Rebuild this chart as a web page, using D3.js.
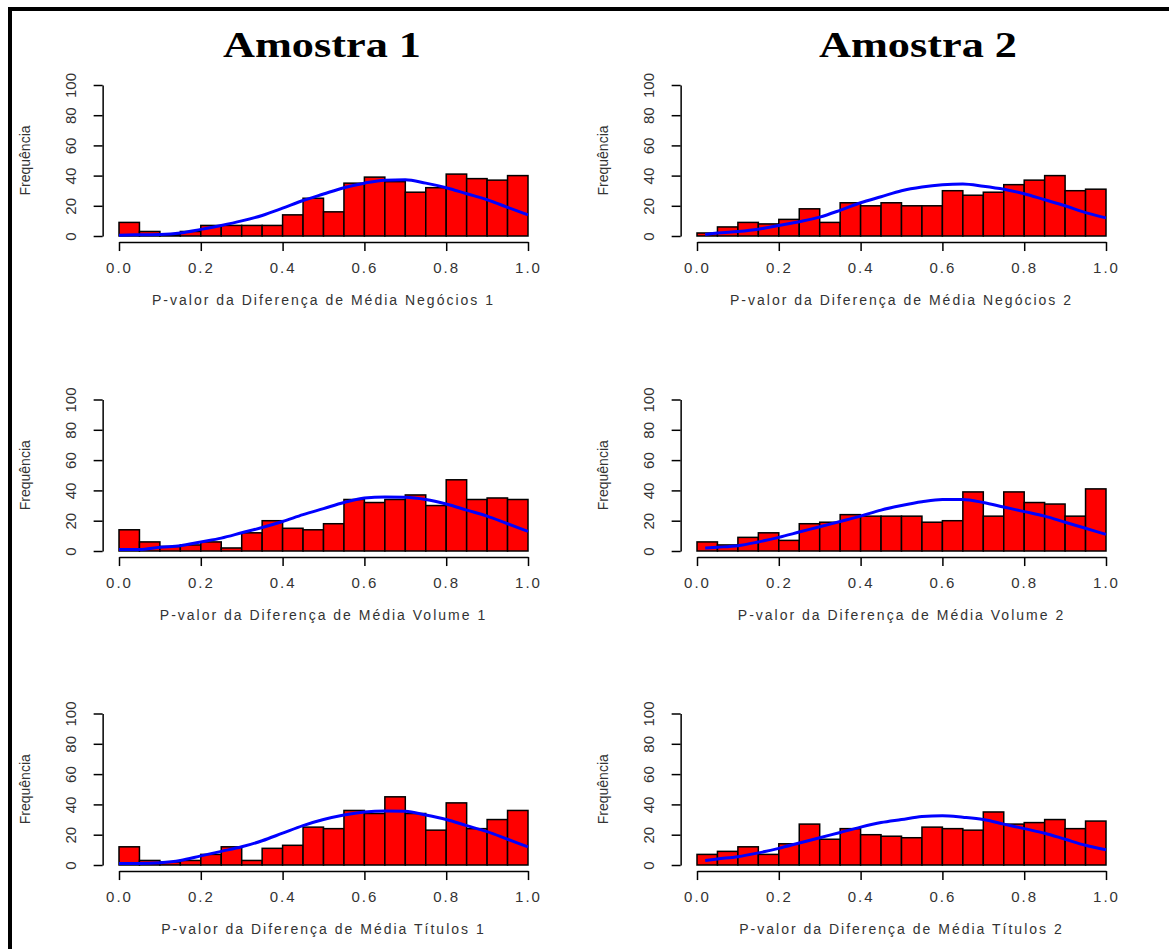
<!DOCTYPE html>
<html>
<head>
<meta charset="utf-8">
<script src="https://cdn.jsdelivr.net/npm/d3@7"></script>
<style>
  body { margin: 0; background: #fff; }
  svg { display: block; }
</style>
</head>
<body>
<script>
// bin edges shared by every histogram (width 0.05)
var binEdges = [0, 0.05, 0.1, 0.15, 0.2, 0.25, 0.3, 0.35, 0.4, 0.45, 0.5,
                0.55, 0.6, 0.65, 0.7, 0.75, 0.8, 0.85, 0.9, 0.95, 1.0];

// frequencies
var negocios1 = [9, 3, 1, 3, 7, 7, 7, 7, 14, 25, 16, 35, 39, 36, 29, 32, 41, 38, 37, 40];
var negocios2 = [2, 6, 9, 8, 11, 18, 9, 22, 20, 22, 20, 20, 30, 27, 29, 34, 37, 40, 30, 31];
var volume1   = [14, 6, 3, 4, 6, 2, 12, 20, 15, 14, 18, 34, 32, 34, 37, 30, 47, 34, 35, 34];
var volume2   = [6, 4, 9, 12, 7, 18, 19, 24, 23, 23, 23, 19, 20, 39, 23, 39, 32, 31, 23, 41];
var titulos1  = [12, 3, 2, 3, 7, 12, 3, 11, 13, 25, 24, 36, 34, 45, 34, 23, 41, 24, 30, 36];
var titulos2  = [7, 9, 12, 7, 14, 27, 17, 24, 20, 19, 18, 25, 24, 23, 35, 27, 28, 30, 24, 29];

// blue fitted curves, sampled by eye
var curveXFrom0  = [0, 0.05, 0.1, 0.15, 0.2, 0.25, 0.3, 0.35, 0.4, 0.45, 0.5,
                    0.55, 0.6, 0.65, 0.7, 0.75, 0.8, 0.85, 0.9, 0.95, 1.0];
var curveXFrom02 = [0.02, 0.05, 0.1, 0.15, 0.2, 0.25, 0.3, 0.35, 0.4, 0.45, 0.5,
                    0.55, 0.6, 0.65, 0.7, 0.75, 0.8, 0.85, 0.9, 0.95, 1.0];
var dNegocios1 = [0.5, 0.8, 1, 2, 4.4, 7, 10, 13.6, 18.4, 23.5, 27.8, 32, 35, 37, 37.3, 35, 32, 28, 24, 19, 14];
var dNegocios2 = [1, 2, 3, 4.5, 7, 9.5, 12.5, 17, 22, 26, 30, 32.5, 34, 34.5, 33, 31, 28, 24, 20, 15.5, 12];
var dVolume1   = [1, 1, 2.5, 3.5, 6, 8.5, 12, 15.5, 19.5, 24, 28, 32, 35, 35.7, 35.5, 34, 31, 27, 23, 18, 13];
var dVolume2   = [2, 2.5, 3.5, 6, 9, 12.5, 16, 19.5, 23, 27, 30, 32.5, 34, 34, 32, 29, 26, 23, 19, 15, 11];
var dTitulos1  = [1, 1, 1.5, 3, 6, 9, 12, 16, 21, 26, 30, 33, 35, 35.7, 35.5, 33, 30, 26, 22, 17, 12];
var dTitulos2  = [3, 4, 5.5, 8, 11, 14.5, 18, 21.5, 25, 28, 30, 32, 32.5, 31.5, 30, 27, 24, 21, 17, 13, 10];

var xTicks = [0, 0.2, 0.4, 0.6, 0.8, 1.0];
var yTicks = [0, 20, 40, 60, 80, 100];
var titles = ["Amostra 1", "Amostra 2"];
var xLabels = [
    "P-valor da Diferença de Média Negócios 1", "P-valor da Diferença de Média Negócios 2",
    "P-valor da Diferença de Média Volume 1",   "P-valor da Diferença de Média Volume 2",
    "P-valor da Diferença de Média Títulos 1",  "P-valor da Diferença de Média Títulos 2"
];
var yLabel = "Frequência";

var panels = [
    {col: 0, row: 0, counts: negocios1, cx: curveXFrom0,  cy: dNegocios1, label: xLabels[0]},
    {col: 1, row: 0, counts: negocios2, cx: curveXFrom02, cy: dNegocios2, label: xLabels[1]},
    {col: 0, row: 1, counts: volume1,   cx: curveXFrom0,  cy: dVolume1,   label: xLabels[2]},
    {col: 1, row: 1, counts: volume2,   cx: curveXFrom02, cy: dVolume2,   label: xLabels[3]},
    {col: 0, row: 2, counts: titulos1,  cx: curveXFrom0,  cy: dTitulos1,  label: xLabels[4]},
    {col: 1, row: 2, counts: titulos2,  cx: curveXFrom02, cy: dTitulos2,  label: xLabels[5]}
];

// layout (pixels)
var colRange = [[119, 528], [697, 1106]];
var rowRange = [[236, 85], [551, 399.5], [865, 713.5]];
var titleX = [322, 918];
var sans = "'Liberation Sans', Arial, sans-serif";

var svg = d3.select("body").append("svg")
    .attr("width", 1169)
    .attr("height", 949);

svg.append("rect").attr("width", 1169).attr("height", 949).attr("fill", "#fff");

// outer frame (runs off the right and bottom edges)
svg.append("rect")
    .attr("x", 10).attr("y", 9)
    .attr("width", 1300).attr("height", 1100)
    .attr("fill", "none")
    .attr("stroke", "#000")
    .attr("stroke-width", 4);

svg.selectAll(".title")
    .data(titles)
    .enter().append("text")
    .attr("class", "title")
    .attr("x", function(d, i) { return titleX[i]; })
    .attr("y", 57)
    .attr("text-anchor", "middle")
    .attr("textLength", 198)
    .attr("lengthAdjust", "spacingAndGlyphs")
    .style("font-family", "'Liberation Serif', 'Times New Roman', serif")
    .style("font-weight", "bold")
    .style("font-size", "36px")
    .style("fill", "#000")
    .text(function(d) { return d; });

panels.forEach(function(p) {
    var x = d3.scaleLinear().domain([0, 1]).range(colRange[p.col]);
    var y = d3.scaleLinear().domain([0, 100]).range(rowRange[p.row]);
    var g = svg.append("g");

    g.selectAll(".bar")
        .data(p.counts)
        .enter().append("rect")
        .attr("class", "bar")
        .attr("x", function(d, i) { return x(binEdges[i]); })
        .attr("width", function(d, i) { return x(binEdges[i + 1]) - x(binEdges[i]); })
        .attr("y", function(d) { return y(d); })
        .attr("height", function(d) { return y(0) - y(d); })
        .attr("fill", "#ff0000")
        .attr("stroke", "#000")
        .attr("stroke-width", 1.5);

    var line = d3.line()
        .x(function(d) { return x(d[0]); })
        .y(function(d) { return y(d[1]); })
        .curve(d3.curveMonotoneX);

    g.append("path")
        .datum(d3.zip(p.cx, p.cy))
        .attr("d", line)
        .attr("fill", "none")
        .attr("stroke", "#0000ff")
        .attr("stroke-width", 3);

    // x axis, R style: sits a little below zero
    var xa = g.append("g")
        .attr("transform", "translate(0," + y(-4) + ")")
        .call(d3.axisBottom(x).tickValues(xTicks).tickFormat(d3.format(".1f"))
            .tickSize(9).tickSizeOuter(0));
    xa.selectAll("text")
        .attr("y", 31).attr("dy", 0)
        .style("font-family", sans)
        .style("font-size", "15px")
        .style("letter-spacing", "2px")
        .style("fill", "#333");

    var ya = g.append("g")
        .attr("transform", "translate(" + x(-0.04) + ",0)")
        .call(d3.axisLeft(y).tickValues(yTicks).tickSize(9).tickSizeOuter(0));
    ya.selectAll("text")
        .attr("transform", "rotate(-90)")
        .attr("x", 0).attr("y", -27).attr("dy", 0)
        .attr("text-anchor", "middle")
        .style("font-family", sans)
        .style("font-size", "15px")
        .style("fill", "#333");

    [xa, ya].forEach(function(a) {
        a.select(".domain").attr("stroke-width", 1.5);
        a.selectAll(".tick line").attr("stroke-width", 1.5);
    });

    g.append("text")
        .attr("x", (x(0) + x(1)) / 2)
        .attr("y", y(0) + 69)
        .attr("text-anchor", "middle")
        .style("font-family", sans)
        .style("font-size", "14px")
        .style("letter-spacing", "2px")
        .style("fill", "#333")
        .text(p.label);

    g.append("text")
        .attr("transform", "translate(" + (x(-0.04) - 73) + "," + ((y(0) + y(100)) / 2) + ") rotate(-90)")
        .attr("text-anchor", "middle")
        .style("font-family", sans)
        .style("font-size", "14px")
        .style("fill", "#333")
        .text(yLabel);
});
</script>
</body>
</html>
